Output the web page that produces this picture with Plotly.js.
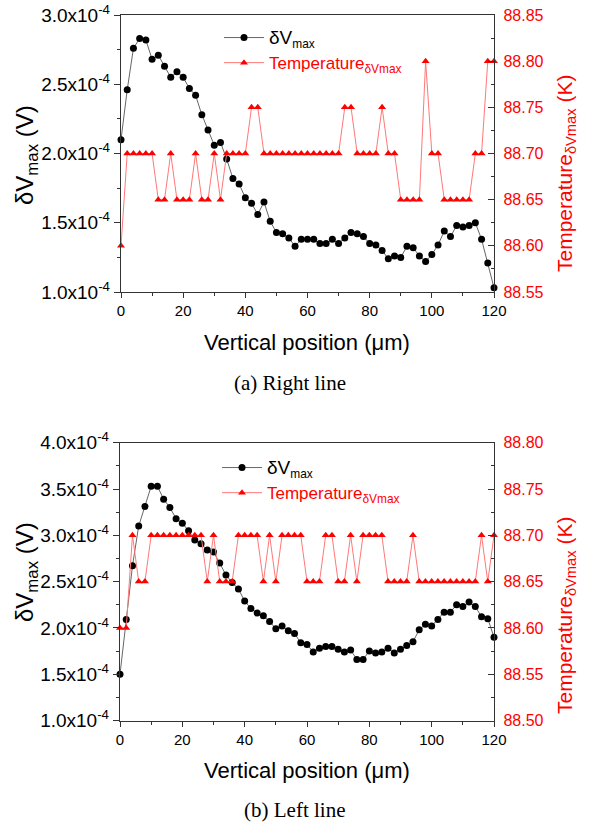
<!DOCTYPE html>
<html><head><meta charset="utf-8">
<script src="https://cdn.plot.ly/plotly-3.0.1.min.js"></script>
<style>html,body{margin:0;padding:0;background:#fff}#chart{width:592px;height:825px}</style>
</head><body><div id="chart"></div>
<script>
// ---- DATA ----
const positionUm = [0,2,4,6,8,10,12,14,16,18,20,22,24,26,28,30,32,34,36,38,40,42,44,46,48,50,52,54,56,58,60,62,64,66,68,70,72,74,76,78,80,82,84,86,88,90,92,94,96,98,100,102,104,106,108,110,112,114,116,118,120];

// (a) Right line
const rightDV = [2.10e-4,2.46e-4,2.76e-4,2.83e-4,2.82e-4,2.68e-4,2.71e-4,2.63e-4,2.55e-4,2.59e-4,2.55e-4,2.47e-4,2.42e-4,2.28e-4,2.17e-4,2.06e-4,2.08e-4,1.96e-4,1.82e-4,1.78e-4,1.68e-4,1.64e-4,1.56e-4,1.65e-4,1.51e-4,1.43e-4,1.42e-4,1.39e-4,1.33e-4,1.38e-4,1.38e-4,1.38e-4,1.35e-4,1.35e-4,1.38e-4,1.35e-4,1.39e-4,1.43e-4,1.42e-4,1.40e-4,1.35e-4,1.34e-4,1.30e-4,1.24e-4,1.26e-4,1.25e-4,1.33e-4,1.32e-4,1.26e-4,1.22e-4,1.27e-4,1.34e-4,1.44e-4,1.40e-4,1.48e-4,1.47e-4,1.48e-4,1.50e-4,1.38e-4,1.21e-4,1.03e-4];
const rightT = [88.60,88.70,88.70,88.70,88.70,88.70,88.65,88.65,88.70,88.65,88.65,88.65,88.70,88.65,88.65,88.70,88.65,88.70,88.70,88.70,88.70,88.75,88.75,88.70,88.70,88.70,88.70,88.70,88.70,88.70,88.70,88.70,88.70,88.70,88.70,88.70,88.75,88.75,88.70,88.70,88.70,88.70,88.75,88.70,88.70,88.65,88.65,88.65,88.65,88.80,88.70,88.70,88.65,88.65,88.65,88.65,88.65,88.70,88.70,88.80,88.80];

// (b) Left line
const leftDV = [1.50e-4,2.09e-4,2.67e-4,3.10e-4,3.31e-4,3.53e-4,3.53e-4,3.39e-4,3.30e-4,3.18e-4,3.13e-4,3.05e-4,2.95e-4,2.91e-4,2.84e-4,2.82e-4,2.70e-4,2.57e-4,2.49e-4,2.42e-4,2.29e-4,2.21e-4,2.16e-4,2.13e-4,2.07e-4,1.99e-4,2.02e-4,1.97e-4,1.94e-4,1.84e-4,1.82e-4,1.74e-4,1.78e-4,1.80e-4,1.80e-4,1.77e-4,1.74e-4,1.76e-4,1.66e-4,1.66e-4,1.75e-4,1.73e-4,1.74e-4,1.78e-4,1.73e-4,1.77e-4,1.81e-4,1.85e-4,1.98e-4,2.04e-4,2.02e-4,2.09e-4,2.17e-4,2.17e-4,2.25e-4,2.23e-4,2.28e-4,2.23e-4,2.12e-4,2.10e-4,1.90e-4];
const leftT = [88.60,88.60,88.70,88.65,88.65,88.70,88.70,88.70,88.70,88.70,88.70,88.70,88.70,88.70,88.65,88.70,88.65,88.65,88.65,88.70,88.70,88.70,88.70,88.65,88.70,88.65,88.70,88.70,88.70,88.70,88.65,88.65,88.65,88.70,88.70,88.65,88.65,88.70,88.65,88.70,88.70,88.70,88.70,88.65,88.65,88.65,88.65,88.70,88.65,88.65,88.65,88.65,88.65,88.65,88.65,88.65,88.65,88.65,88.70,88.65,88.70];

// Tick labels
const xTicks = [0,20,40,60,80,100,120];
const topDVTicks = [1.0e-4,1.5e-4,2.0e-4,2.5e-4,3.0e-4];
const topDVTickText = ['1.0x10<sup>-4</sup>','1.5x10<sup>-4</sup>','2.0x10<sup>-4</sup>','2.5x10<sup>-4</sup>','3.0x10<sup>-4</sup>'];
const botDVTicks = [1.0e-4,1.5e-4,2.0e-4,2.5e-4,3.0e-4,3.5e-4,4.0e-4];
const botDVTickText = ['1.0x10<sup>-4</sup>','1.5x10<sup>-4</sup>','2.0x10<sup>-4</sup>','2.5x10<sup>-4</sup>','3.0x10<sup>-4</sup>','3.5x10<sup>-4</sup>','4.0x10<sup>-4</sup>'];
const topTTicks = [88.55,88.60,88.65,88.70,88.75,88.80,88.85];
const topTTickText = ['88.55','88.60','88.65','88.70','88.75','88.80','88.85'];
const botTTicks = [88.50,88.55,88.60,88.65,88.70,88.75,88.80];
const botTTickText = ['88.50','88.55','88.60','88.65','88.70','88.75','88.80'];

// ---- LAYOUT HELPERS ----
const W = 592, H = 825;
const px = v => v / W;
const py = v => 1 - v / H;
const FONT = 'Liberation Sans, Arial, sans-serif';
const AX = '#333';
const RED = '#ff0000';

const dvName = '<span style="font-size:19px">δV</span><sub>max</sub>';
const tName = '<span style="color:#ff0000">Temperature<sub>δVmax</sub></span>';

const dvStyle = {mode:'lines+markers', line:{color:'#666', width:1}, marker:{color:'#000', size:7, symbol:'circle'}, cliponaxis:false};
const tStyle = {mode:'lines+markers', line:{color:'rgb(255,120,120)', width:1}, marker:{color:RED, size:7, symbol:'triangle-up'}, cliponaxis:false};

const traces = [
  Object.assign({x:positionUm, y:rightDV, xaxis:'x', yaxis:'y', name:dvName, legend:'legend'}, dvStyle),
  Object.assign({x:positionUm, y:rightT, xaxis:'x', yaxis:'y2', name:tName, legend:'legend'}, tStyle),
  Object.assign({x:positionUm, y:leftDV, xaxis:'x2', yaxis:'y3', name:dvName, legend:'legend2'}, dvStyle),
  Object.assign({x:positionUm, y:leftT, xaxis:'x2', yaxis:'y4', name:tName, legend:'legend2'}, tStyle)
];

function xAxis(domain, anchor){
  return {domain:domain, anchor:anchor, range:[0,120], tickmode:'array', tickvals:xTicks, ticktext:xTicks.map(String),
    ticks:'outside', ticklen:5, tickwidth:1, tickcolor:AX, showline:true, linecolor:AX, linewidth:1.2, mirror:true,
    showgrid:false, zeroline:false, tickfont:{family:FONT, size:15, color:'#000'},
    minor:{dtick:10, tick0:0, ticks:'outside', ticklen:3, tickwidth:1, tickcolor:AX, showgrid:false}};
}
function dvAxis(domain, anchor, range, vals, text){
  return {domain:domain, anchor:anchor, range:range, tickmode:'array', tickvals:vals, ticktext:text,
    ticks:'outside', ticklen:6, tickwidth:1, tickcolor:AX, showline:true, linecolor:AX, linewidth:1.2,
    showgrid:false, zeroline:false, tickfont:{family:FONT, size:19, color:'#000'},
    minor:{dtick:0.25e-4, tick0:1e-4, ticks:'outside', ticklen:3, tickwidth:1, tickcolor:AX, showgrid:false}};
}
function tAxis(anchor, overlay, range, vals, text){
  return {anchor:anchor, overlaying:overlay, side:'right', range:range, tickmode:'array', tickvals:vals, ticktext:text,
    ticks:'inside', ticklen:6, tickwidth:1, tickcolor:AX, showline:true, linecolor:AX, linewidth:1.2,
    showgrid:false, zeroline:false, tickfont:{family:FONT, size:16, color:RED}, ticklabelstandoff:5,
    minor:{dtick:0.025, tick0:88.5, ticks:'inside', ticklen:3, tickwidth:1, tickcolor:AX, showgrid:false}};
}

const topY = [py(292), py(15)];
const botY = [py(720.5), py(442.7)];

function ann(text, x, y, size, opts){
  return Object.assign({text:text, x:px(x), y:py(y), xref:'paper', yref:'paper', xanchor:'center', yanchor:'middle',
    showarrow:false, font:{family:FONT, size:size, color:'#000'}}, opts||{});
}

const layout = {
  width:W, height:H, margin:{l:0, r:0, t:0, b:0}, paper_bgcolor:'#fff', plot_bgcolor:'rgba(0,0,0,0)',
  font:{family:FONT, color:'#000'},
  xaxis: xAxis([px(121), px(494)], 'y'),
  yaxis: dvAxis(topY, 'x', [1e-4, 3e-4], topDVTicks, topDVTickText),
  yaxis2: tAxis('x', 'y', [88.55, 88.85], topTTicks, topTTickText),
  xaxis2: xAxis([px(120), px(494)], 'y3'),
  yaxis3: dvAxis(botY, 'x2', [1e-4, 4e-4], botDVTicks, botDVTickText),
  yaxis4: tAxis('x2', 'y3', [88.50, 88.80], botTTicks, botTTickText),
  legend: {x:px(219), y:py(20), xanchor:'left', yanchor:'top', bgcolor:'rgba(0,0,0,0)', font:{family:FONT, size:17, color:'#000'}, itemwidth:40, tracegroupgap:0},
  legend2: {x:px(217), y:py(450), xanchor:'left', yanchor:'top', bgcolor:'rgba(0,0,0,0)', font:{family:FONT, size:17, color:'#000'}, itemwidth:40, tracegroupgap:0},
  showlegend:true,
  annotations: [
    ann('δV<sub>max</sub> (V)', 26, 155, 24, {textangle:-90}),
    ann('Temperature<sub>δVmax</sub> (K)', 566, 174, 21, {textangle:-90, font:{family:FONT, size:21, color:RED}}),
    ann('δV<sub>max</sub> (V)', 26, 572, 24, {textangle:-90}),
    ann('Temperature<sub>δVmax</sub> (K)', 566, 616, 21, {textangle:-90, font:{family:FONT, size:21, color:RED}}),
    ann('Vertical position (μm)', 307, 342, 22),
    ann('Vertical position (μm)', 307, 770, 22),
    ann('(a) Right line', 290, 383, 21, {font:{family:'Liberation Serif, Times New Roman, serif', size:21, color:'#000'}}),
    ann('(b) Left line', 294, 810, 21, {font:{family:'Liberation Serif, Times New Roman, serif', size:21, color:'#000'}})
  ]
};

Plotly.newPlot('chart', traces, layout, {displayModeBar:false, staticPlot:true});
</script>
</body></html>
